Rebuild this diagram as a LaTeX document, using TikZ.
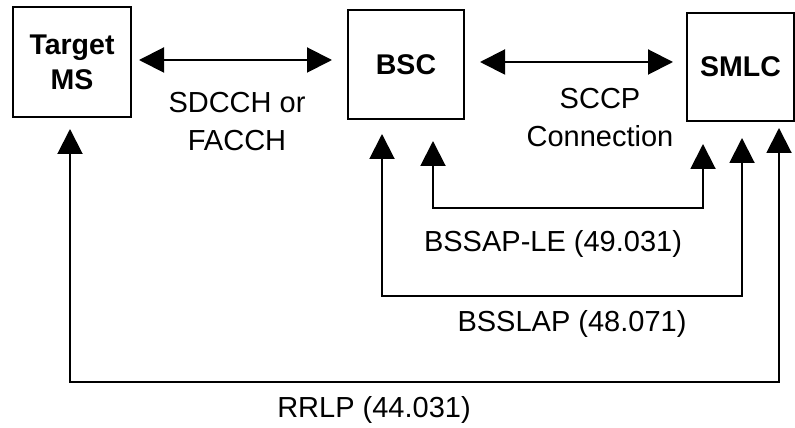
\documentclass[tikz,border=0pt]{standalone}
\usepackage{fontspec}
\setmainfont{Liberation Sans}
\usetikzlibrary{positioning, arrows.meta}

\begin{document}
\begin{tikzpicture}[
        x=1pt, y=1pt,
        font=\fontsize{29}{38}\selectfont,
        unit/.style={draw, line width=2pt, align=center, inner sep=0pt, font=\fontsize{28.5}{35}\selectfont\bfseries},
        msg/.style={align=center},
        link/.style={{Triangle[length=25pt,width=25pt]}-{Triangle[length=25pt,width=25pt]}, line width=2pt}
      ]
    \useasboundingbox (0,0) rectangle (795,428);

    % network elements
    \node[unit, minimum width=118pt, minimum height=110pt] (ms) at (72,366) {Target\\MS};
    \node[unit, minimum width=116pt, minimum height=109pt] (bsc) at (406,363.5) {BSC};
    \node[unit, minimum width=107pt, minimum height=108pt] (smlc) at (740.5,361) {SMLC};

    % interfaces
    \draw[link, shorten <=7pt, shorten >=15pt] ([yshift=2pt]ms.east) -- ([yshift=2pt]ms.east -| bsc.west);
    \draw[link, shorten <=15pt, shorten >=13pt] ([yshift=2.5pt]bsc.east) -- ([yshift=2.5pt]bsc.east -| smlc.west);
    \node[msg] (radio) at (237,306) {SDCCH or\\FACCH};
    \node[msg] (sccp) at (600,310) {SCCP\\Connection};

    % protocols
    \coordinate (bscle) at ([xshift=27pt]bsc.south);
    \coordinate (smlcle) at ([xshift=-37.5pt]smlc.south);
    \coordinate (bsclap) at ([xshift=-24pt]bsc.south);
    \coordinate (smlclap) at ([xshift=1.5pt]smlc.south);
    \coordinate (msrr) at ([xshift=-2pt]ms.south);
    \coordinate (smlcrr) at ([xshift=38.5pt]smlc.south);

    \draw[link, shorten <=21pt, shorten >=22pt] (bscle) -- (bscle |- 0,220) -| (smlcle);
    \draw[link, shorten <=14pt, shorten >=16pt] (bsclap) -- (bsclap |- 0,132) -| (smlclap);
    \draw[link, shorten <=11pt, shorten >=6pt] (msrr) -- (msrr |- 0,46) -| (smlcrr);

    \node[msg, anchor=base] (bssap) at (553,176) {BSSAP-LE (49.031)};
    \node[msg, anchor=base] (bsslap) at (572,96) {BSSLAP (48.071)};
    \node[msg, anchor=base] (rrlp) at (374,10) {RRLP (44.031)};

\end{tikzpicture}
\end{document}
